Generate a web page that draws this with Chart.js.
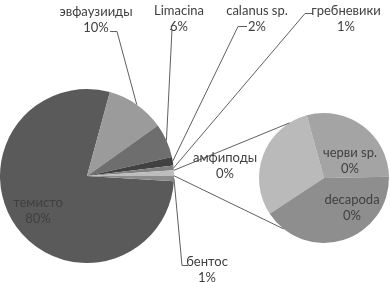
<!DOCTYPE html>
<html>
<head>
<meta charset="utf-8">
<script src="https://cdn.jsdelivr.net/npm/chart.js@4.4.1/dist/chart.umd.min.js"></script>
<style>
  html, body { margin: 0; padding: 0; background: #fff; }
  #wrap { position: relative; width: 390px; height: 282px; }
  #wrap canvas { position: absolute; left: 0; top: 0; }
</style>
</head>
<body>
<div id="wrap">
  <canvas id="main" width="390" height="282"></canvas>
  <canvas id="sub" width="390" height="282"></canvas>
</div>
<script>
// Main pie; 'прочие' is the slice that is split out into the small pie
const mainLabels = ['темисто', 'эвфаузииды', 'Limacina', 'calanus sp.', 'гребневики', 'прочие', 'бентос'];
const mainValues = [79, 11, 6.4, 1.6, 0.9, 1.0, 1.0];
const mainPct = ['80%', '10%', '6%', '2%', '1%', '', '1%'];
const mainColors = ['#5a5a5a', '#9b9b9b', '#6e6e6e', '#414141', '#808080', '#bdbdbd', '#8c8c8c'];
const otherIndex = 5;

// Secondary pie
const subLabels = ['амфиподы', 'черви sp.', 'decapoda'];
const subValues = [0.30, 0.29, 0.41];
const subPct = ['0%', '0%', '0%'];
const subColors = ['#bababa', '#a4a4a4', '#8e8e8e'];

// label placement (centre of first line) + leader tick
const mainLabelPos = [
  { x: 38, y: 203 },
  { x: 96, y: 12, tick: [[110, 31.5], [117, 31.5]] },
  { x: 179, y: 11, tick: [[170, 29.5], [172, 29.5]] },
  { x: 257, y: 11, tick: [[247, 26.5], [238, 26.5]] },
  { x: 346, y: 11, tick: [[313, 13.5], [305, 13.5]] },
  null,
  { x: 207, y: 262, tick: [[188, 265.5], [182, 265.5]] },
];
const subLabelPos = [
  { x: 225, y: 158 },
  { x: 350, y: 153 },
  { x: 352, y: 200 },
];
// where the connectors meet the small pie (canvas degrees)
const connAngles = [238, 128.5];

const FONT = '13px Lato';
const TEXT = '#404040';
const LINE = '#5f5f5f';

const mainChart = new Chart(document.getElementById('main'), {
  type: 'pie',
  data: {
    labels: mainLabels,
    datasets: [{ data: mainValues, backgroundColor: mainColors, borderWidth: 0 }],
  },
  options: {
    responsive: false,
    animation: false,
    devicePixelRatio: 1,
    rotation: 93.4,
    layout: { padding: { left: 0, right: 216, top: 89, bottom: 19 } },
    plugins: { legend: { display: false }, tooltip: { enabled: false } },
  },
});

function drawTwo(ctx, t1, t2, x, y) {
  ctx.fillText(t1, x, y);
  ctx.fillText(t2, x, y + 15.5);
}

const overlay = {
  id: 'overlay',
  afterDraw(chart) {
    const ctx = chart.ctx;
    const mArcs = mainChart.getDatasetMeta(0).data;
    const sArcs = chart.getDatasetMeta(0).data;
    ctx.save();
    ctx.strokeStyle = LINE;
    ctx.lineWidth = 1;

    mainLabelPos.forEach((p, i) => {
      if (!p || !p.tick) return;
      const a = mArcs[i].getProps(['x', 'y', 'startAngle', 'endAngle', 'outerRadius'], true);
      const mid = (a.startAngle + a.endAngle) / 2;
      ctx.beginPath();
      ctx.moveTo(p.tick[0][0], p.tick[0][1]);
      ctx.lineTo(p.tick[1][0], p.tick[1][1]);
      ctx.lineTo(a.x + Math.cos(mid) * a.outerRadius, a.y + Math.sin(mid) * a.outerRadius);
      ctx.stroke();
    });

    // connectors from the 'прочие' slice to the small pie
    const o = mArcs[otherIndex].getProps(['x', 'y', 'startAngle', 'endAngle', 'outerRadius'], true);
    const s = sArcs[0].getProps(['x', 'y', 'outerRadius'], true);
    [[o.startAngle, connAngles[0]], [o.endAngle, connAngles[1]]].forEach(([ma, sa]) => {
      const r = sa * Math.PI / 180;
      ctx.beginPath();
      ctx.moveTo(o.x + Math.cos(ma) * o.outerRadius, o.y + Math.sin(ma) * o.outerRadius);
      ctx.lineTo(s.x + Math.cos(r) * s.outerRadius, s.y + Math.sin(r) * s.outerRadius);
      ctx.stroke();
    });

    ctx.font = FONT;
    ctx.fillStyle = TEXT;
    ctx.textAlign = 'center';
    ctx.textBaseline = 'middle';
    mainLabelPos.forEach((p, i) => {
      if (!p) return;
      drawTwo(ctx, mainLabels[i], mainPct[i], p.x, p.y);
    });
    subLabelPos.forEach((p, i) => drawTwo(ctx, subLabels[i], subPct[i], p.x, p.y));
    ctx.restore();
  },
};

new Chart(document.getElementById('sub'), {
  type: 'pie',
  data: {
    labels: subLabels,
    datasets: [{ data: subValues, backgroundColor: subColors, borderWidth: 0 }],
  },
  options: {
    responsive: false,
    animation: false,
    devicePixelRatio: 1,
    rotation: 236.6,
    layout: { padding: { left: 259, right: 1, top: 113, bottom: 39 } },
    plugins: { legend: { display: false }, tooltip: { enabled: false } },
  },
  plugins: [overlay],
});
</script>
</body>
</html>
